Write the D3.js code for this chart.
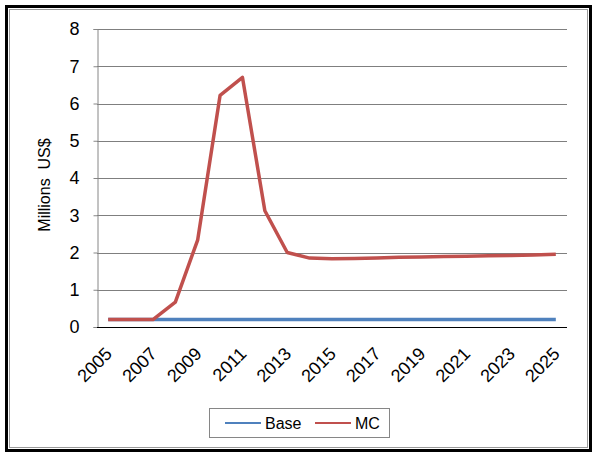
<!DOCTYPE html>
<html>
<head>
<meta charset="utf-8">
<script src="https://cdn.jsdelivr.net/npm/d3@7"></script>
<style>
  body { margin: 0; background: #fff; }
  text { font-family: "Liberation Sans", Arial, sans-serif; fill: #000; }
</style>
</head>
<body>
<svg id="chart" width="600" height="459"></svg>
<script>
// data
var years = d3.range(2005, 2026);
var baseValues = [0.2, 0.2, 0.2, 0.2, 0.2, 0.2, 0.2, 0.2, 0.2, 0.2, 0.2, 0.2, 0.2, 0.2, 0.2, 0.2, 0.2, 0.2, 0.2, 0.2, 0.2];
var mcValues = [0.2, 0.2, 0.2, 0.67, 2.34, 6.22, 6.7, 3.12, 2.0, 1.85, 1.83, 1.84, 1.85, 1.87, 1.88, 1.89, 1.9, 1.91, 1.92, 1.93, 1.95];
var yTicks = [0, 1, 2, 3, 4, 5, 6, 7, 8];
var xLabels = d3.range(2005, 2026, 2);
var seriesNames = ["Base", "MC"];
var seriesColors = ["#4F81BD", "#C0504D"];

var svg = d3.select("#chart");
var plotLeft = 97, plotTop = 29, plotRight = 567, plotBottom = 327;

// outer frame
svg.append("rect").attr("x", 6.5).attr("y", 6.5).attr("width", 584).attr("height", 444)
    .attr("fill", "none").attr("stroke", "#000").attr("stroke-width", 3);
svg.append("rect").attr("x", 9.5).attr("y", 9.5).attr("width", 578).attr("height", 438)
    .attr("fill", "none").attr("stroke", "#999").attr("stroke-width", 1);

var x = d3.scaleBand().domain(years).range([plotLeft, plotRight]);
var y = d3.scaleLinear().domain([0, 8]).range([plotBottom, plotTop]);

// gridlines
svg.append("g").selectAll("line")
    .data(yTicks.slice(1))
    .enter()
    .append("line")
    .attr("x1", plotLeft).attr("x2", plotRight)
    .attr("y1", function(d){ return Math.round(y(d)) + 0.5; })
    .attr("y2", function(d){ return Math.round(y(d)) + 0.5; })
    .attr("stroke", "#7f7f7f").attr("stroke-width", 1);

// y axis
var yAxis = svg.append("g")
    .attr("transform", "translate(" + (plotLeft + 0.5) + ",0)")
    .call(d3.axisLeft(y).tickValues(yTicks).tickSize(4).tickPadding(14).tickFormat(d3.format("d")));
yAxis.select(".domain").attr("stroke", "#868686");
yAxis.selectAll(".tick line").attr("stroke", "#868686");
yAxis.selectAll(".tick text").style("font-size", "18px").style("font-family", "'Liberation Sans', Arial, sans-serif").attr("fill", "#000");

svg.append("text")
    .attr("transform", "translate(50," + 185 + ") rotate(-90)")
    .style("text-anchor", "middle")
    .style("font-size", "16px")
    .attr("xml:space", "preserve")
    .text("Millions  US$");

// x axis
svg.append("line")
    .attr("x1", plotLeft).attr("x2", plotRight)
    .attr("y1", plotBottom + 0.5).attr("y2", plotBottom + 0.5)
    .attr("stroke", "#000").attr("stroke-width", 1);

svg.append("g").selectAll("text")
    .data(xLabels)
    .enter()
    .append("text")
    .attr("transform", function(d){
        var cx = x(d) + x.bandwidth() / 2;
        return "translate(" + (cx + 5) + "," + (plotBottom + 28) + ") rotate(-45)";
    })
    .style("text-anchor", "end")
    .style("font-size", "18px")
    .text(function(d){ return d; });

// lines
var line = d3.line()
    .x(function(d, i){ return x(years[i]) + x.bandwidth() / 2; })
    .y(function(d){ return y(d); });

[baseValues, mcValues].forEach(function(vals, i){
    svg.append("path")
        .datum(vals)
        .attr("d", line)
        .attr("fill", "none")
        .attr("stroke", seriesColors[i])
        .attr("stroke-width", 3.5)
        .attr("stroke-linejoin", "round");
});

// legend
var legend = svg.append("g");
legend.append("rect")
    .attr("x", 209.5).attr("y", 408.5).attr("width", 180).attr("height", 29)
    .attr("fill", "#fff").attr("stroke", "#868686");
var legendX = [225, 315];
seriesNames.forEach(function(name, i){
    legend.append("line")
        .attr("x1", legendX[i]).attr("x2", legendX[i] + 36)
        .attr("y1", 423).attr("y2", 423)
        .attr("stroke", seriesColors[i]).attr("stroke-width", 2);
    legend.append("text")
        .attr("x", legendX[i] + 40).attr("y", 429)
        .style("font-size", "16px")
        .text(name);
});
</script>
</body>
</html>
